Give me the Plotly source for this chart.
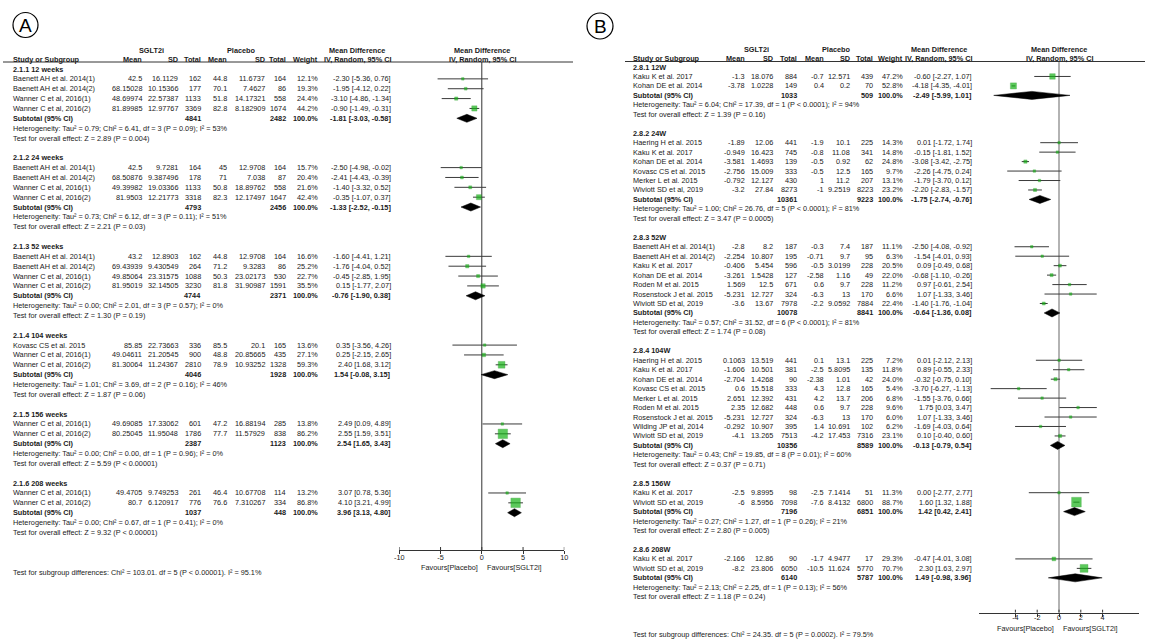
import plotly.graph_objects as go

W, H = 1150, 644
FONT = "Liberation Sans, Arial, sans-serif"
FS = 7.3
TXT = "#1a1a1a"
GREEN = "#17b317"
CI_COL = "#3a3a3a"

# ======================= Panel A data =======================
A_groups = ["2.1.1 12 weeks", "2.1.2 24 weeks", "2.1.3 52 weeks",
            "2.1.4 104 weeks", "2.1.5 156 weeks", "2.1.6 208 weeks"]
A_gid = [0, 0, 0, 0, 1, 1, 1, 1, 2, 2, 2, 2, 3, 3, 3, 4, 4, 5, 5]
A_study = ["Baenett AH et al. 2014(1)", "Baenett AH et al. 2014(2)", "Wanner C et al, 2016(1)", "Wanner C et al, 2016(2)",
           "Baenett AH et al. 2014(1)", "Baenett AH et al. 2014(2)", "Wanner C et al, 2016(1)", "Wanner C et al, 2016(2)",
           "Baenett AH et al. 2014(1)", "Baenett AH et al. 2014(2)", "Wanner C et al, 2016(1)", "Wanner C et al, 2016(2)",
           "Kovasc CS et al. 2015", "Wanner C et al, 2016(1)", "Wanner C et al, 2016(2)",
           "Wanner C et al, 2016(1)", "Wanner C et al, 2016(2)",
           "Wanner C et al, 2016(1)", "Wanner C et al, 2016(2)"]
A_e_mean = ["42.5", "68.15028", "48.69974", "81.89985", "42.5", "68.50876", "49.39982", "81.9503",
            "43.2", "69.43939", "49.85064", "81.95019", "85.85", "49.04611", "81.30064",
            "49.69085", "80.25045", "49.4705", "80.7"]
A_e_sd = ["16.1129", "10.15366", "22.57387", "12.97767", "9.7281", "9.387496", "19.03366", "12.21773",
          "12.8903", "9.430549", "23.31575", "32.14505", "22.73663", "21.20545", "11.24367",
          "17.33062", "11.95048", "9.749253", "6.120917"]
A_e_n = ["162", "177", "1133", "3369", "164", "178", "1133", "3318", "162", "264", "1088", "3230",
         "336", "900", "2810", "601", "1786", "261", "776"]
A_c_mean = ["44.8", "70.1", "51.8", "82.8", "45", "71", "50.8", "82.3", "44.8", "71.2", "50.3", "81.8",
            "85.5", "48.8", "78.9", "47.2", "77.7", "46.4", "76.6"]
A_c_sd = ["11.6737", "7.4627", "14.17321", "8.182909", "12.9708", "7.038", "18.89762", "12.17497",
          "12.9708", "9.3283", "23.02173", "31.90987", "20.1", "20.85665", "10.93252",
          "16.88194", "11.57929", "10.67708", "7.310267"]
A_c_n = ["164", "86", "558", "1674", "164", "87", "558", "1647", "164", "86", "530", "1591",
         "165", "435", "1328", "285", "838", "114", "334"]
A_weight = [12.1, 19.3, 24.4, 44.2, 15.7, 20.4, 21.6, 42.4, 16.6, 25.2, 22.7, 35.5,
            13.6, 27.1, 59.3, 13.8, 86.2, 13.2, 86.8]
A_md = [-2.30, -1.95, -3.10, -0.90, -2.50, -2.41, -1.40, -0.35, -1.60, -1.76, -0.45, 0.15,
        0.35, 0.25, 2.40, 2.49, 2.55, 3.07, 4.10]
A_lo = [-5.36, -4.12, -4.86, -1.49, -4.98, -4.43, -3.32, -1.07, -4.41, -4.04, -2.85, -1.77,
        -3.56, -2.15, 1.68, 0.09, 1.59, 0.78, 3.21]
A_hi = [0.76, 0.22, -1.34, -0.31, -0.02, -0.39, 0.52, 0.37, 1.21, 0.52, 1.95, 2.07,
        4.26, 2.65, 3.12, 4.89, 3.51, 5.36, 4.99]
A_sub_e_n = ["4841", "4793", "4744", "4046", "2387", "1037"]
A_sub_c_n = ["2482", "2456", "2371", "1928", "1123", "448"]
A_sub_md = [-1.81, -1.33, -0.76, 1.54, 2.54, 3.96]
A_sub_lo = [-3.03, -2.52, -1.90, -0.08, 1.65, 3.13]
A_sub_hi = [-0.58, -0.15, 0.38, 3.15, 3.43, 4.80]
A_het = ["Heterogeneity: Tau² = 0.79; Chi² = 6.41, df = 3 (P = 0.09); I² = 53%",
         "Heterogeneity: Tau² = 0.73; Chi² = 6.12, df = 3 (P = 0.11); I² = 51%",
         "Heterogeneity: Tau² = 0.00; Chi² = 2.01, df = 3 (P = 0.57); I² = 0%",
         "Heterogeneity: Tau² = 1.01; Chi² = 3.69, df = 2 (P = 0.16); I² = 46%",
         "Heterogeneity: Tau² = 0.00; Chi² = 0.00, df = 1 (P = 0.96); I² = 0%",
         "Heterogeneity: Tau² = 0.00; Chi² = 0.67, df = 1 (P = 0.41); I² = 0%"]
A_test = ["Test for overall effect: Z = 2.89 (P = 0.004)",
          "Test for overall effect: Z = 2.21 (P = 0.03)",
          "Test for overall effect: Z = 1.30 (P = 0.19)",
          "Test for overall effect: Z = 1.87 (P = 0.06)",
          "Test for overall effect: Z = 5.59 (P < 0.00001)",
          "Test for overall effect: Z = 9.32 (P < 0.00001)"]
A_subgroup_test = "Test for subgroup differences: Chi² = 103.01. df = 5 (P < 0.00001). I² = 95.1%"
A_ticks = [-10, -5, 0, 5, 10]

# ======================= Panel B data =======================
B_groups = ["2.8.1 12W", "2.8.2 24W", "2.8.3 52W", "2.8.4 104W", "2.8.5 156W", "2.8.6 208W"]
B_gid = [0, 0, 1, 1, 1, 1, 1, 1, 2, 2, 2, 2, 2, 2, 2, 3, 3, 3, 3, 3, 3, 3, 3, 3, 4, 4, 5, 5]
B_study = ["Kaku K et al. 2017", "Kohan DE et al. 2014",
           "Haering H et al. 2015", "Kaku K et al. 2017", "Kohan DE et al. 2014", "Kovasc CS et al. 2015",
           "Merker L et al. 2015", "Wiviott SD et al, 2019",
           "Baenett AH et al. 2014(1)", "Baenett AH et al. 2014(2)", "Kaku K et al. 2017", "Kohan DE et al. 2014",
           "Roden M et al. 2015", "Rosenstock J et al. 2015", "Wiviott SD et al, 2019",
           "Haering H et al. 2015", "Kaku K et al. 2017", "Kohan DE et al. 2014", "Kovasc CS et al. 2015",
           "Merker L et al. 2015", "Roden M et al. 2015", "Rosenstock J et al. 2015", "Wilding JP et al, 2014",
           "Wiviott SD et al, 2019",
           "Kaku K et al. 2017", "Wiviott SD et al, 2019",
           "Kaku K et al. 2017", "Wiviott SD et al, 2019"]
B_e_mean = ["-1.3", "-3.78", "-1.89", "-0.949", "-3.581", "-2.756", "-0.792", "-3.2",
            "-2.8", "-2.254", "-0.406", "-3.261", "1.569", "-5.231", "-3.6",
            "0.1063", "-1.606", "-2.704", "0.6", "2.651", "2.35", "-5.231", "-0.292", "-4.1",
            "-2.5", "-6", "-2.166", "-8.2"]
B_e_sd = ["18.076", "1.0228", "12.06", "16.423", "1.4693", "15.009", "12.127", "27.84",
          "8.2", "10.807", "5.454", "1.5428", "12.5", "12.727", "13.67",
          "13.519", "10.501", "1.4268", "15.518", "12.392", "12.682", "12.727", "10.907", "13.265",
          "9.8995", "8.5956", "12.86", "23.806"]
B_e_n = ["884", "149", "441", "745", "139", "333", "430", "8273",
         "187", "195", "596", "127", "671", "324", "7978",
         "441", "381", "90", "333", "431", "448", "324", "395", "7513",
         "98", "7098", "90", "6050"]
B_c_mean = ["-0.7", "0.4", "-1.9", "-0.8", "-0.5", "-0.5", "1", "-1",
            "-0.3", "-0.71", "-0.5", "-2.58", "0.6", "-6.3", "-2.2",
            "0.1", "-2.5", "-2.38", "4.3", "4.2", "0.6", "-6.3", "1.4", "-4.2",
            "-2.5", "-7.6", "-1.7", "-10.5"]
B_c_sd = ["12.571", "0.2", "10.1", "11.08", "0.92", "12.5", "11.2", "9.2519",
          "7.4", "9.7", "3.0199", "1.16", "9.7", "13", "9.0592",
          "13.1", "5.8095", "1.01", "12.8", "13.7", "9.7", "13", "10.691", "17.453",
          "7.1414", "8.4132", "4.9477", "11.624"]
B_c_n = ["439", "70", "225", "341", "62", "165", "207", "8223",
         "187", "95", "228", "49", "228", "170", "7884",
         "225", "135", "42", "165", "206", "228", "170", "102", "7316",
         "51", "6800", "17", "5770"]
B_weight = [47.2, 52.8, 14.3, 14.8, 24.8, 9.7, 13.1, 23.2,
            11.1, 6.3, 20.5, 22.0, 11.2, 6.6, 22.4,
            7.2, 11.8, 24.0, 5.4, 6.8, 9.6, 6.0, 6.2, 23.1,
            11.3, 88.7, 29.3, 70.7]
B_md = [-0.60, -4.18, 0.01, -0.15, -3.08, -2.26, -1.79, -2.20,
        -2.50, -1.54, 0.09, -0.68, 0.97, 1.07, -1.40,
        0.01, 0.89, -0.32, -3.70, -1.55, 1.75, 1.07, -1.69, 0.10,
        0.00, 1.60, -0.47, 2.30]
B_lo = [-2.27, -4.35, -1.72, -1.81, -3.42, -4.75, -3.70, -2.83,
        -4.08, -4.01, -0.49, -1.10, -0.61, -1.33, -1.76,
        -2.12, -0.55, -0.75, -6.27, -3.76, 0.03, -1.33, -4.03, -0.40,
        -2.77, 1.32, -4.01, 1.63]
B_hi = [1.07, -4.01, 1.74, 1.52, -2.75, 0.24, 0.12, -1.57,
        -0.92, 0.93, 0.68, -0.26, 2.54, 3.46, -1.04,
        2.13, 2.33, 0.10, -1.13, 0.66, 3.47, 3.46, 0.64, 0.60,
        2.77, 1.88, 3.08, 2.97]
B_sub_e_n = ["1033", "10361", "10078", "10356", "7196", "6140"]
B_sub_c_n = ["509", "9223", "8841", "8589", "6851", "5787"]
B_sub_md = [-2.49, -1.75, -0.64, -0.13, 1.42, 1.49]
B_sub_lo = [-5.99, -2.74, -1.36, -0.79, 0.42, -0.98]
B_sub_hi = [1.01, -0.76, 0.08, 0.54, 2.41, 3.96]
B_het = ["Heterogeneity: Tau² = 6.04; Chi² = 17.39, df = 1 (P < 0.0001); I² = 94%",
         "Heterogeneity: Tau² = 1.00; Chi² = 26.76, df = 5 (P < 0.0001); I² = 81%",
         "Heterogeneity: Tau² = 0.57; Chi² = 31.52, df = 6 (P < 0.0001); I² = 81%",
         "Heterogeneity: Tau² = 0.43; Chi² = 19.85, df = 8 (P = 0.01); I² = 60%",
         "Heterogeneity: Tau² = 0.27; Chi² = 1.27, df = 1 (P = 0.26); I² = 21%",
         "Heterogeneity: Tau² = 2.13; Chi² = 2.25, df = 1 (P = 0.13); I² = 56%"]
B_test = ["Test for overall effect: Z = 1.39 (P = 0.16)",
          "Test for overall effect: Z = 3.47 (P = 0.0005)",
          "Test for overall effect: Z = 1.74 (P = 0.08)",
          "Test for overall effect: Z = 0.37 (P = 0.71)",
          "Test for overall effect: Z = 2.80 (P = 0.005)",
          "Test for overall effect: Z = 1.18 (P = 0.24)"]
B_subgroup_test = "Test for subgroup differences: Chi² = 24.35. df = 5 (P = 0.0002). I² = 79.5%"
B_ticks = [-4, -2, 0, 2, 4]

HEAD2 = ["Study or Subgroup", "Mean", "SD", "Total", "Mean", "SD", "Total", "Weight", "IV, Random, 95% CI"]

# ======================= builders =======================
fig = go.Figure()
annotations = []
shapes = []


def txt(x, y, s, anchor="left", bold=False, size=FS, color=TXT):
    annotations.append(dict(
        x=x, y=y, xref="x3", yref="y", text=("<b>%s</b>" % s) if bold else s,
        showarrow=False, xanchor=anchor, yanchor="middle", borderpad=0,
        font=dict(family=FONT, size=size, color=color)))


def fmt_ci(m, l, h):
    return "%.2f [%.2f, %.2f]" % (m, l, h)


def build_panel(P):
    gid = P["gid"]
    c = P["cols"]
    y0, pitch = P["start"], P["pitch"]
    h1, h2 = P["h1y"], P["h2y"]
    txt(P["sglt_c"], h1, "SGLT2i", "center", True)
    txt(P["plac_c"], h1, "Placebo", "center", True)
    txt(P["md_c"], h1, "Mean Difference", "center", True)
    txt(P["forest_c"], h1, "Mean Difference", "center", True)
    keys = ["name", "e_mean", "e_sd", "e_n", "c_mean", "c_sd", "c_n", "w", "md"]
    for k, lab in zip(keys, HEAD2):
        txt(c[k], h2, lab, "left" if k == "name" else "right", True)
    txt(P["forest_c"], h2, "IV, Random, 95% CI", "center", True)
    shapes.append(dict(type="line", xref="x3", yref="y", x0=P["hl_x0"], x1=P["hl_x1"],
                       y0=P["hl_y"], y1=P["hl_y"], line=dict(color="#333", width=1)))

    r = 0
    study_y, sub_y = [], []
    si = 0
    for g in range(len(P["groups"])):
        txt(c["name"], y0 + r * pitch, P["groups"][g], "left", True)
        r += 1
        for _ in range(gid.count(g)):
            y = y0 + r * pitch
            study_y.append(y)
            txt(c["name"], y, P["study"][si])
            txt(c["e_mean"], y, P["e_mean"][si], "right")
            txt(c["e_sd"], y, P["e_sd"][si], "right")
            txt(c["e_n"], y, P["e_n"][si], "right")
            txt(c["c_mean"], y, P["c_mean"][si], "right")
            txt(c["c_sd"], y, P["c_sd"][si], "right")
            txt(c["c_n"], y, P["c_n"][si], "right")
            txt(c["w"], y, "%.1f%%" % P["weight"][si], "right")
            txt(c["md"], y, fmt_ci(P["md"][si], P["lo"][si], P["hi"][si]), "right")
            si += 1
            r += 1
        y = y0 + r * pitch
        sub_y.append(y)
        txt(c["name"], y, "Subtotal (95% CI)", "left", True)
        txt(c["e_n"], y, P["sub_e_n"][g], "right", True)
        txt(c["c_n"], y, P["sub_c_n"][g], "right", True)
        txt(c["w"], y, "100.0%", "right", True)
        txt(c["md"], y, fmt_ci(P["sub_md"][g], P["sub_lo"][g], P["sub_hi"][g]), "right", True)
        r += 1
        txt(c["name"], y0 + r * pitch, P["het"][g])
        r += 1
        txt(c["name"], y0 + r * pitch, P["test"][g])
        r += 2

    xa, ya = P["xaxis"], P["yaxis"]
    shapes.append(dict(type="line", xref=xa, yref=ya, x0=0, x1=0, y0=P["hl_y"], y1=P["axis_y"],
                       line=dict(color=P["zero_col"], width=P["zero_w"]), layer="below"))
    for t in P["ticks"]:
        shapes.append(dict(type="line", xref=xa, yref=ya, x0=t, x1=t, y0=P["axis_y"] - 3,
                           y1=P["axis_y"], line=dict(color="#333", width=1)))
    lx, ly = [], []
    for i in range(len(study_y)):
        lx += [P["lo"][i], P["hi"][i], None]
        ly += [study_y[i], study_y[i], None]
    fig.add_trace(go.Scatter(x=lx, y=ly, mode="lines", xaxis=xa, yaxis=ya, cliponaxis=False,
                             line=dict(color=CI_COL, width=1), hoverinfo="skip", showlegend=False))
    sizes = [max(2.5, 0.1 * w + 0.8) for w in P["weight"]]
    fig.add_trace(go.Scatter(x=P["md"], y=study_y, mode="markers", xaxis=xa, yaxis=ya,
                             cliponaxis=False,
                             marker=dict(symbol="square", size=sizes, color=GREEN,
                                         line=dict(width=0.4, color="#0c8f0c")),
                             hoverinfo="skip", showlegend=False))
    for g in range(len(sub_y)):
        y = sub_y[g]
        fig.add_trace(go.Scatter(
            x=[P["sub_lo"][g], P["sub_md"][g], P["sub_hi"][g], P["sub_md"][g], P["sub_lo"][g]],
            y=[y, y - 4, y, y + 4, y], mode="lines", fill="toself", fillcolor="black",
            line=dict(color="black", width=0.5), xaxis=xa, yaxis=ya,
            hoverinfo="skip", showlegend=False))
    txt(P["fav_l"], P["fav_y"], "Favours[Placebo]", "right")
    txt(P["fav_r"], P["fav_y"], "Favours[SGLT2i]", "left")
    txt(c["name"], P["sgt_y"], P["subgroup_test"])
    cx, cy, rr = P["circle"]
    shapes.append(dict(type="circle", xref="x3", yref="y", x0=cx - rr, x1=cx + rr,
                       y0=cy - rr, y1=cy + rr, line=dict(color="black", width=1.2)))
    txt(cx, cy + 0.5, P["letter"], "center", False, 19, "black")


PA = dict(groups=A_groups, gid=A_gid, study=A_study, e_mean=A_e_mean, e_sd=A_e_sd, e_n=A_e_n,
          c_mean=A_c_mean, c_sd=A_c_sd, c_n=A_c_n, weight=A_weight, md=A_md, lo=A_lo, hi=A_hi,
          sub_e_n=A_sub_e_n, sub_c_n=A_sub_c_n, sub_md=A_sub_md, sub_lo=A_sub_lo, sub_hi=A_sub_hi,
          het=A_het, test=A_test, subgroup_test=A_subgroup_test, ticks=A_ticks,
          cols=dict(name=12.3, e_mean=142.7, e_sd=179, e_n=201.7, c_mean=227.7, c_sd=265.7,
                    c_n=287, w=319, md=391.7),
          start=69, pitch=9.86, h1y=50, h2y=59, hl_y=62, hl_x0=3, hl_x1=573,
          sglt_c=151, plac_c=241, md_c=357, forest_c=482,
          xaxis="x", yaxis="y2", axis_y=550, zero_col="#333", zero_w=1,
          fav_l=479, fav_r=486, fav_y=567.3, sgt_y=572.7, circle=(25.5, 25, 12.5), letter="A")

PB = dict(groups=B_groups, gid=B_gid, study=B_study, e_mean=B_e_mean, e_sd=B_e_sd, e_n=B_e_n,
          c_mean=B_c_mean, c_sd=B_c_sd, c_n=B_c_n, weight=B_weight, md=B_md, lo=B_lo, hi=B_hi,
          sub_e_n=B_sub_e_n, sub_c_n=B_sub_c_n, sub_md=B_sub_md, sub_lo=B_sub_lo, sub_hi=B_sub_hi,
          het=B_het, test=B_test, subgroup_test=B_subgroup_test, ticks=B_ticks,
          cols=dict(name=631.7, e_mean=745.7, e_sd=774, e_n=798.3, c_mean=824.7, c_sd=850.7,
                    c_n=874, w=904, md=972.7),
          start=67, pitch=9.46, h1y=49.3, h2y=58.3, hl_y=61.5, hl_x0=625, hl_x1=1145,
          sglt_c=756, plac_c=836, md_c=938.5, forest_c=1059,
          xaxis="x2", yaxis="y3", axis_y=612.7, zero_col="#9a9a9a", zero_w=1.5,
          fav_l=1055.3, fav_r=1061.7, fav_y=628.5, sgt_y=634.5, circle=(600, 26, 13), letter="B")

build_panel(PA)
build_panel(PB)

A_axis_y, B_axis_y = 550, 612.7
axcommon = dict(showgrid=False, zeroline=False, showline=True, linecolor="#333", linewidth=1,
                ticks="outside", ticklen=3, tickcolor="#333", tickwidth=1,
                tickfont=dict(family=FONT, size=FS, color=TXT), fixedrange=True)
B_rng = [(979 - 1059) / 10.9, (1139 - 1059) / 10.9]

fig.update_layout(
    width=W, height=H, margin=dict(l=0, r=0, t=0, b=0, pad=0, autoexpand=False),
    paper_bgcolor="white", plot_bgcolor="rgba(0,0,0,0)", showlegend=False,
    xaxis3=dict(domain=[0, 1], range=[0, W], visible=False, anchor="y", fixedrange=True),
    yaxis=dict(domain=[0, 1], range=[H, 0], visible=False, anchor="x3", fixedrange=True),
    xaxis=dict(domain=[399.3 / W, 564.3 / W], range=[-10, 10], tickvals=A_ticks,
               ticktext=[str(t) for t in A_ticks], anchor="y2", ticklabelstandoff=-3, **axcommon),
    yaxis2=dict(domain=[1 - A_axis_y / H, 1], range=[A_axis_y, 0], visible=False,
                anchor="x", fixedrange=True),
    xaxis2=dict(domain=[979 / W, 1139 / W], range=B_rng, tickvals=B_ticks,
                ticktext=[str(t) for t in B_ticks], anchor="y3", ticklabelstandoff=-5, **axcommon),
    yaxis3=dict(domain=[1 - B_axis_y / H, 1], range=[B_axis_y, 0], visible=False,
                anchor="x2", fixedrange=True),
    annotations=annotations, shapes=shapes,
)

fig.write_html("out.html", config={"displayModeBar": False},
               post_script="document.body.style.margin='0px';document.body.style.overflow='hidden';")
